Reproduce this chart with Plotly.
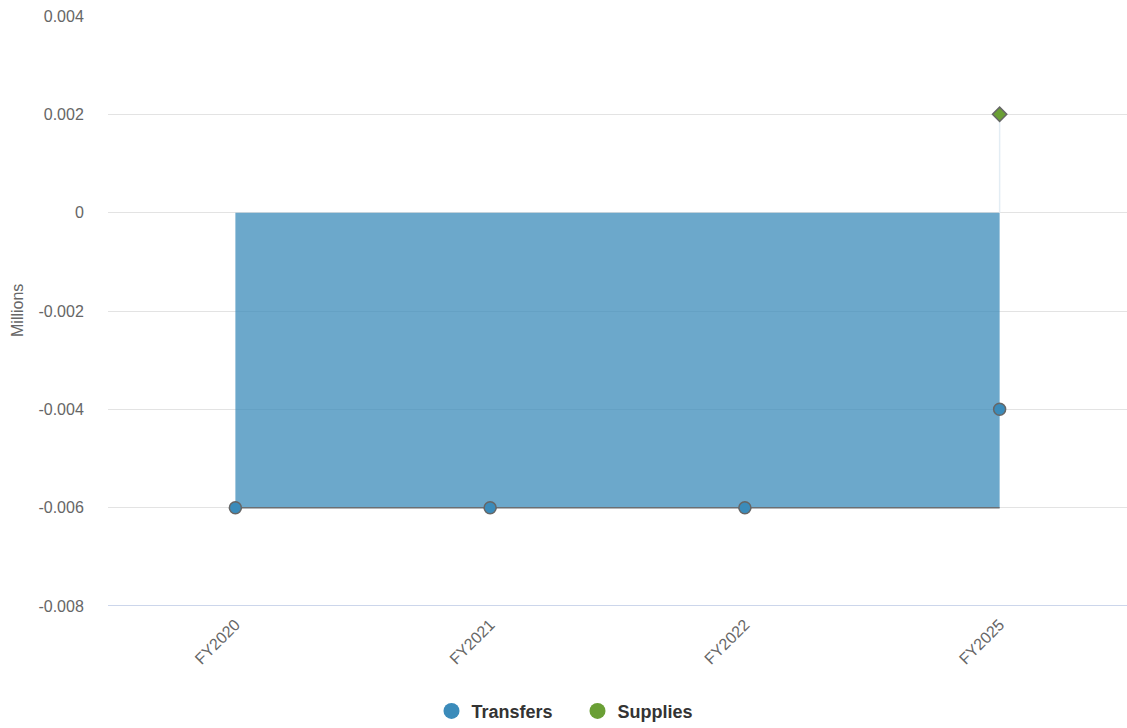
import plotly.graph_objects as go

categories = ["FY2020", "FY2021", "FY2022", "FY2025"]
transfers_area = [-0.006, -0.006, -0.006, -0.006]
transfers_points = [-0.006, -0.006, -0.006, -0.004]
supplies_cat = ["FY2025"]
supplies_vals = [0.002]
y_ticks = [0.004, 0.002, 0, -0.002, -0.004, -0.006, -0.008]
y_tick_text = ["0.004", "0.002", "0", "-0.002", "-0.004", "-0.006", "-0.008"]

blue = "#3b8bba"
green = "#6a9f35"
FONT = "Liberation Sans, Arial, Helvetica, sans-serif"

fig = go.Figure()

fig.add_trace(go.Scatter(
    x=categories, y=transfers_area, mode="lines", fill="tozeroy",
    fillcolor="rgba(59,139,186,0.75)", line=dict(color="#6b6f73", width=1.5),
    showlegend=False, hoverinfo="skip"))
fig.add_trace(go.Scatter(
    x=supplies_cat * 2, y=[0] + supplies_vals, mode="lines",
    line=dict(color="#e3edf4", width=1.5), showlegend=False, hoverinfo="skip"))
fig.add_trace(go.Scatter(
    x=categories, y=transfers_points, mode="markers",
    marker=dict(symbol="circle", size=12, color=blue, line=dict(color="#666666", width=1.5)),
    showlegend=False))
fig.add_trace(go.Scatter(
    x=supplies_cat, y=supplies_vals, mode="markers",
    marker=dict(symbol="diamond", size=11, color=green, line=dict(color="#666666", width=1.5)),
    showlegend=False))
fig.add_trace(go.Scatter(x=[None], y=[None], mode="markers", name="<b>Transfers</b>",
                         marker=dict(symbol="circle", size=17, color=blue)))
fig.add_trace(go.Scatter(x=[None], y=[None], mode="markers", name="<b>Supplies</b>",
                         marker=dict(symbol="circle", size=17, color=green)))

fig.update_layout(
    width=1127, height=728,
    margin=dict(l=108, r=0, t=16, b=122, autoexpand=False),
    paper_bgcolor="white", plot_bgcolor="white",
    font=dict(family=FONT, color="#666666", size=16),
    xaxis=dict(type="category", categoryorder="array", categoryarray=categories,
               range=[-0.5, 3.5], tickangle=-45, showgrid=False, zeroline=False,
               showline=False, ticks="outside", ticklen=2, tickcolor="rgba(0,0,0,0)",
               automargin=False, tickfont=dict(size=16, color="#666666")),
    yaxis=dict(range=[-0.008, 0.004], tickmode="array",
               tickvals=y_ticks, ticktext=y_tick_text,
               showgrid=True, gridcolor="#e3e3e3", gridwidth=1, zeroline=False,
               showline=False, ticks="outside", ticklen=20, tickcolor="rgba(0,0,0,0)",
               automargin=False, tickfont=dict(size=16, color="#666666")),
    legend=dict(orientation="h", xref="container", x=0.5 + 14 / 1127, xanchor="center",
                y=-0.147, yanchor="top", entrywidth=101, entrywidthmode="pixels",
                font=dict(size=18, color="#333333", family=FONT)),
    annotations=[dict(text="Millions", xref="paper", yref="paper",
                      x=(17 - 108) / 1019, y=0.5, textangle=-90, showarrow=False,
                      xanchor="center", yanchor="middle",
                      font=dict(size=16, color="#666666", family=FONT))],
)
fig.add_shape(type="line", xref="paper", yref="y", x0=0, x1=1, y0=-0.008, y1=-0.008,
              line=dict(color="#ccd6eb", width=2), layer="above")

fig.write_html("out.html", config={"displayModeBar": False},
               post_script=("document.body.style.margin='0';document.body.style.padding='0';"
                            "document.body.style.overflow='hidden';"
                            "document.documentElement.style.overflow='hidden';"))
